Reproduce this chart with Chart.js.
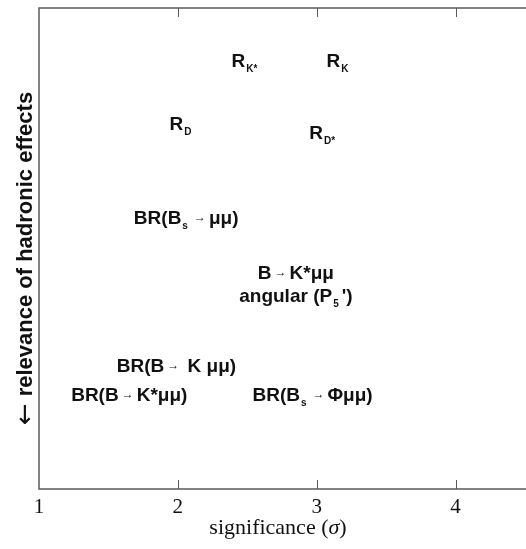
<!DOCTYPE html>
<html>
<head>
<meta charset="utf-8">
<script src="https://cdn.jsdelivr.net/npm/chart.js@4/dist/chart.umd.min.js"></script>
<style>
  html, body { margin: 0; padding: 0; background: #fff; }
  #wrap { width: 526px; height: 549px; position: relative; }
</style>
</head>
<body>
<div id="wrap"><canvas id="c"></canvas></div>
<script>
// Observables placed by significance (x) and how much hadronic effects matter (y).
// "_{...}" marks a subscript, "\n" a line break.
const observables = [
  "R_{K*}",
  "R_{K}",
  "R_{D}",
  "R_{D*}",
  "BR(B_{s}→μμ)",
  "B→K*μμ\nangular (P_{5}')",
  "BR(B→ K μμ)",
  "BR(B→K*μμ)",
  "BR(B_{s}→Φμμ)"
];
const significance = [2.49, 3.16, 2.03, 3.05, 2.06, 2.85, 1.99, 1.65, 2.97];
const hadronicRelevance = [8.88, 8.88, 7.57, 7.38, 5.61, 4.23, 2.54, 1.93, 1.93];
const xTicks = [1, 2, 3, 4];
const yTitleArrow = '←';
const yTitleText = 'relevance of hadronic effects';

const SANS = '"Liberation Sans", Arial, sans-serif';
const SERIF = '"Liberation Serif", "Times New Roman", serif';
const INK = '#111';
const FRAME = '#5a5a5a';

// split a label line into runs of normal / subscript / arrow text
function parseRuns(line) {
  const runs = [];
  const re = /_\{([^}]*)\}|→/g;
  let last = 0, m;
  while ((m = re.exec(line)) !== null) {
    if (m.index > last) runs.push({ t: line.slice(last, m.index), kind: 'main' });
    if (m[0] === '→') runs.push({ t: '→', kind: 'arrow' });
    else runs.push({ t: m[1], kind: 'sub' });
    last = re.lastIndex;
  }
  if (last < line.length) runs.push({ t: line.slice(last), kind: 'main' });
  return runs;
}

const labelPlugin = {
  id: 'observableLabels',
  afterDatasetsDraw(chart) {
    const { ctx, scales: { x, y } } = chart;
    ctx.save();
    ctx.fillStyle = INK;
    ctx.textBaseline = 'middle';
    ctx.textAlign = 'left';
    const fonts = {
      main: `bold 19px ${SANS}`,
      sub: `bold 10px ${SANS}`,
      arrow: `12px ${SANS}`
    };
    const gaps = { main: [0, 0], sub: [1, 3], arrow: [3, 3] };
    observables.forEach((text, i) => {
      const px = x.getPixelForValue(significance[i]);
      const py = y.getPixelForValue(hadronicRelevance[i]);
      const lines = text.split('\n');
      const lh = 23;
      lines.forEach((line, li) => {
        const runs = parseRuns(line);
        let w = 0;
        runs.forEach(r => {
          ctx.font = fonts[r.kind];
          r.w = ctx.measureText(r.t).width + gaps[r.kind][0] + gaps[r.kind][1];
          w += r.w;
        });
        let cx = px - w / 2;
        const cy = py + (li - (lines.length - 1) / 2) * lh;
        runs.forEach(r => {
          ctx.font = fonts[r.kind];
          const dy = r.kind === 'sub' ? 7 : (r.kind === 'arrow' ? -1 : 0);
          ctx.fillText(r.t, cx + gaps[r.kind][0], cy + dy);
          cx += r.w;
        });
      });
    });
    ctx.restore();
  }
};

// frame on left/top/bottom with inward tick marks, plus axis titles
const framePlugin = {
  id: 'frameAndTitles',
  afterDraw(chart) {
    const { ctx, chartArea: a, scales: { x } } = chart;
    ctx.save();
    ctx.strokeStyle = FRAME;
    ctx.lineWidth = 1.5;
    ctx.beginPath();
    ctx.moveTo(chart.width, a.top);
    ctx.lineTo(a.left, a.top);
    ctx.lineTo(a.left, a.bottom);
    ctx.lineTo(chart.width, a.bottom);
    ctx.stroke();
    ctx.lineWidth = 1;
    ctx.beginPath();
    x.ticks.forEach(t => {
      if (t.value === x.min) return;
      const px = Math.round(x.getPixelForValue(t.value)) + 0.5;
      ctx.moveTo(px, a.top);
      ctx.lineTo(px, a.top + 9);
      ctx.moveTo(px, a.bottom);
      ctx.lineTo(px, a.bottom - 9);
    });
    ctx.stroke();

    ctx.fillStyle = INK;

    // x-axis title with italic sigma
    const parts = [
      { t: 'significance (', f: `22px ${SERIF}` },
      { t: 'σ', f: `italic 22px ${SERIF}` },
      { t: ')', f: `22px ${SERIF}` }
    ];
    let w = 0;
    parts.forEach(p => { ctx.font = p.f; p.w = ctx.measureText(p.t).width; w += p.w; });
    let cx = (a.left + a.right) / 2 - 4 - w / 2;
    ctx.textBaseline = 'middle';
    ctx.textAlign = 'left';
    parts.forEach(p => { ctx.font = p.f; ctx.fillText(p.t, cx, 528); cx += p.w; });

    // y-axis title, reading upward: arrow then words
    ctx.translate(32, (a.top + a.bottom) / 2 + 10);
    ctx.rotate(-Math.PI / 2);
    ctx.textBaseline = 'alphabetic';
    ctx.textAlign = 'left';
    const arrowFont = `26px "DejaVu Sans", ${SANS}`;
    const textFont = `bold 22px ${SANS}`;
    ctx.font = arrowFont;
    const aw = ctx.measureText(yTitleArrow).width;
    ctx.font = textFont;
    const tw = ctx.measureText(yTitleText).width;
    const gap = 7;
    const start = -(aw + gap + tw) / 2;
    ctx.font = arrowFont;
    ctx.fillText(yTitleArrow, start, 1);
    ctx.font = textFont;
    ctx.fillText(yTitleText, start + aw + gap, 0);
    ctx.restore();
  }
};

new Chart(document.getElementById('c'), {
  type: 'scatter',
  data: {
    datasets: [{
      data: significance.map((v, i) => ({ x: v, y: hadronicRelevance[i] })),
      pointRadius: 0,
      pointHoverRadius: 0
    }]
  },
  options: {
    responsive: true,
    maintainAspectRatio: false,
    animation: false,
    events: [],
    layout: { padding: { top: 8, right: 1, bottom: 0, left: 0 } },
    plugins: { legend: { display: false }, tooltip: { enabled: false } },
    scales: {
      x: {
        type: 'linear',
        min: 1,
        max: 4.5,
        afterBuildTicks: s => { s.ticks = xTicks.map(v => ({ value: v })); },
        afterFit: s => { s.height = 60; },
        grid: { display: false, drawTicks: false },
        border: { display: false },
        ticks: {
          padding: 6,
          color: INK,
          font: { family: SERIF, size: 21 },
          maxRotation: 0
        }
      },
      y: {
        type: 'linear',
        min: 0,
        max: 10,
        afterFit: s => { s.width = 39; },
        grid: { display: false, drawTicks: false },
        border: { display: false },
        ticks: { display: false }
      }
    }
  },
  plugins: [labelPlugin, framePlugin]
});
</script>
</body>
</html>
